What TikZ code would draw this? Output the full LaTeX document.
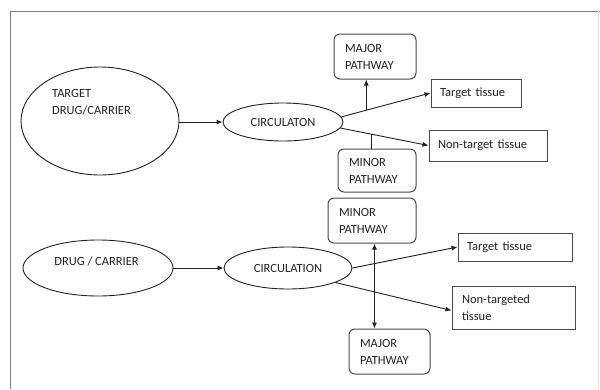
\documentclass[tikz,border=0pt]{standalone}
\usepackage{fontspec}
\setmainfont{Carlito}
\usetikzlibrary{arrows.meta,shapes.geometric,calc}
\definecolor{ink}{HTML}{222222}
\definecolor{boxline}{HTML}{4A4A4A}
\begin{document}
\begin{tikzpicture}[x=1pt,y=-1pt,
  every node/.style={font=\fontsize{12.5}{17}\selectfont, text=ink},
  ell/.style={draw=ink, line width=0.9pt, ellipse, inner sep=0pt},
  rbox/.style={draw=boxline, line width=1pt, rounded corners=6pt, align=left, inner ysep=0pt},
  sbox/.style={draw=boxline, line width=1pt, align=left, inner ysep=0pt},
  conn/.style={draw=ink, line width=0.9pt},
  arr/.style={conn, -{Latex[length=6pt,width=5pt]}}]
\useasboundingbox (0,0) rectangle (600,389);
% frame
\draw[gray, line width=0.8pt] (10,11) -- (600,11);
\draw[gray, line width=0.8pt] (10,11) -- (10,389);
\draw[gray!20, line width=0.8pt] (598,11) -- (598,389);

% upper diagram
\node[ell, minimum width=158pt, minimum height=108pt] (e1) at (100,121) {};
\node[align=left, inner sep=0pt] (e1t) at (91.5,102) {TARGET\\DRUG/CARRIER};
\node[ell, minimum width=120pt, minimum height=38pt] (c1) at (283,122) {CIRCULATON};
\node[rbox, minimum height=45pt, text width=60pt, inner xsep=11pt] (mj1) at (375,56.5) {MAJOR\\PATHWAY};
\node[sbox, minimum height=28pt, text width=72pt, inner xsep=9pt] (tt1) at (476,93) {Target tissue};
\node[sbox, minimum height=31pt, text width=100pt, inner xsep=9pt] (nt1) at (488,145.5) {Non-target tissue};
\node[rbox, minimum height=43pt, text width=56pt, inner xsep=11pt] (mn1) at (377,170.5) {MINOR\\PATHWAY};

\draw[arr] (e1.east |- c1.west) -- (c1.west);
\draw[arr] (c1.5) -- (tt1.west);
\coordinate (p1) at ($(c1.5)!0.28!(tt1.west)$);
\draw[arr] (p1) -- (p1 |- mj1.south);
\draw[arr] (c1.-6) -- (nt1.west);
\coordinate (p2) at ($(c1.-6)!0.35!(nt1.west)$);
\draw[conn] (p2) -- (p2 |- mn1.north);

% lower diagram
\node[ell, minimum width=150pt, minimum height=56pt] (e2) at (98,268) {};
\node[inner sep=0pt] (e2t) at (96.5,261) {DRUG / CARRIER};
\node[ell, minimum width=128pt, minimum height=42pt] (c2) at (288,268) {CIRCULATION};
\node[rbox, minimum height=45pt, text width=66pt, inner xsep=11pt] (mn2) at (372,220.5) {MINOR\\PATHWAY};
\node[sbox, minimum height=28pt, text width=96pt, inner xsep=9pt] (tt2) at (515,247) {Target tissue};
\node[sbox, minimum height=43pt, text width=103pt, inner xsep=10pt] (nt2) at (513.5,307.5) {Non-targeted\\tissue};
\node[rbox, minimum height=45pt, text width=59pt, inner xsep=11pt] (mj2) at (389.5,351.5) {MAJOR\\PATHWAY};

\draw[arr] (e2.east) -- (c2.west);
\draw[arr] (c2.east) -- (tt2.west);
\coordinate (p3) at ($(c2.east)!0.21!(tt2.west)$);
\draw[arr] (p3) -- (p3 |- mn2.south);
\draw[arr] (p3) -- (p3 |- mj2.north);
\draw[arr] (c2.-17) -- ([yshift=-3pt]nt2.west);
\end{tikzpicture}
\end{document}
